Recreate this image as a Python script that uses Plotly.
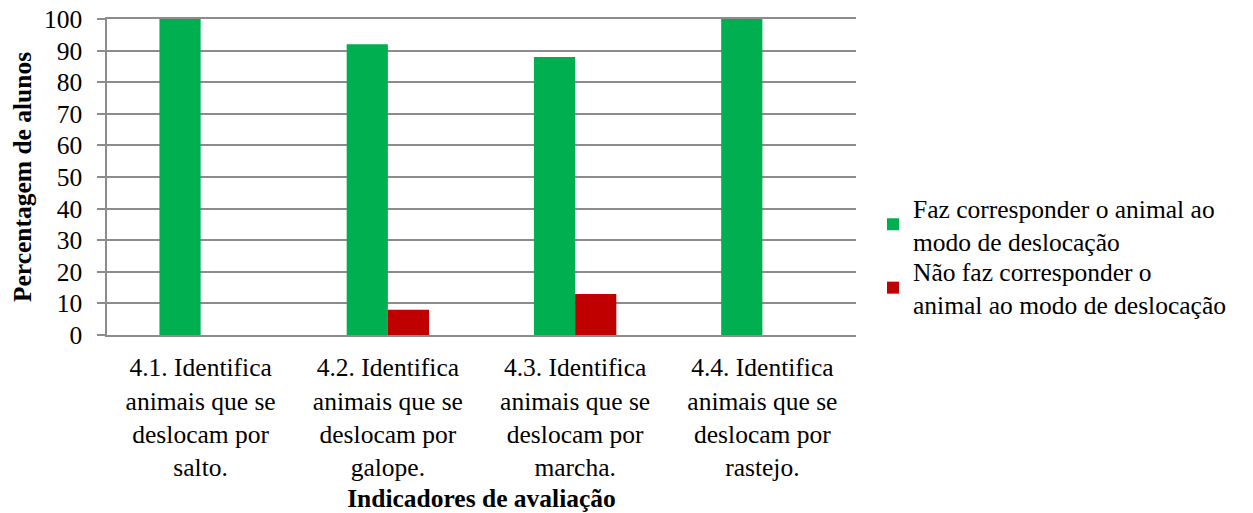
import plotly.graph_objects as go

categories = [
    "4.1. Identifica<br>animais que se<br>deslocam por<br>salto.",
    "4.2. Identifica<br>animais que se<br>deslocam por<br>galope.",
    "4.3. Identifica<br>animais que se<br>deslocam por<br>marcha.",
    "4.4. Identifica<br>animais que se<br>deslocam por<br>rastejo.",
]
faz_values = [100, 92, 88, 100]
nao_faz_values = [0, 8, 13, 0]
series_names = [
    "Faz corresponder o animal ao<br>modo de deslocação",
    "Não faz corresponder o<br>animal ao modo de deslocação",
]
y_ticks = list(range(0, 101, 10))

FONT = "Liberation Serif"
FS = 25.5
GRID = "#8c8c8c"
W, H = 1245, 505  # page body has an 8px margin

fig = go.Figure()
fig.add_trace(go.Bar(x=categories, y=faz_values, name=series_names[0],
                     marker=dict(color="#00B050", line=dict(width=0))))
fig.add_trace(go.Bar(x=categories, y=nao_faz_values, name=series_names[1], legend="legend2",
                     marker=dict(color="#C00000", line=dict(width=0))))

fig.update_layout(
    width=W, height=H,
    margin=dict(l=99, r=397, t=11, b=178, autoexpand=False),
    paper_bgcolor="white", plot_bgcolor="white",
    barmode="group", bargap=0.56, bargroupgap=0,
    font=dict(family=FONT, size=FS, color="black"),
    showlegend=True,
    legend=dict(
        xref="container", yref="container",
        x=865 / W, xanchor="left", y=1 - 216.5 / H, yanchor="middle",
        font=dict(family=FONT, size=FS, color="black"),
        itemwidth=30, bgcolor="rgba(0,0,0,0)", visible=True,
    ),
    legend2=dict(
        xref="container", yref="container",
        x=865 / W, xanchor="left", y=1 - 280 / H, yanchor="middle",
        font=dict(family=FONT, size=FS, color="black"),
        itemwidth=30, bgcolor="rgba(0,0,0,0)", visible=True,
    ),
    xaxis=dict(
        showline=True, linecolor=GRID, linewidth=1.5, mirror=True,
        ticks="outside", ticklen=9, tickcolor="rgba(0,0,0,0)",
        showgrid=False,
        tickfont=dict(family=FONT, size=FS),
        title=dict(text="<b>Indicadores de avaliação</b>", font=dict(family=FONT, size=FS), standoff=10),
        automargin=False,
    ),
    yaxis=dict(
        range=[0, 100], tickvals=y_ticks,
        showgrid=True, gridcolor=GRID, gridwidth=1.5,
        showline=True, linecolor=GRID, linewidth=1.5,
        ticks="outside", ticklen=8, tickcolor=GRID, tickwidth=1.5,
        tickfont=dict(family=FONT, size=FS),
        ticklabelstandoff=10, ticklabeloverflow="allow",
        title=dict(text="<b>Percentagem de alunos</b>", font=dict(family=FONT, size=FS), standoff=8),
        zeroline=False, automargin=False,
    ),
)

fig.write_html("out.html")
